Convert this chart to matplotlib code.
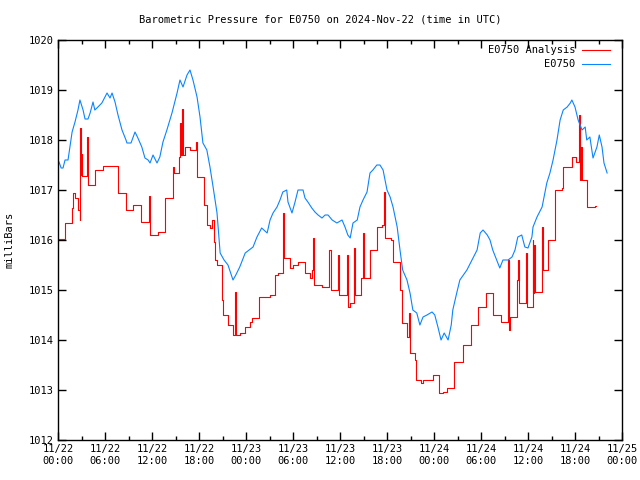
import matplotlib
matplotlib.use("Agg")
import matplotlib.pyplot as plt
import matplotlib.dates as mdates
import pandas as pd

# hours after 2024-11-22 00:00 UTC
station_hours = [0.13, 0.4, 0.64, 0.9, 1.28, 1.8, 2.17, 2.55, 2.8, 3.2, 3.45, 3.83, 4.1, 4.47, 4.7,
                 5.1, 5.6, 6.26, 6.64, 6.9, 7.28, 7.66, 8.17, 8.68, 8.8, 9.32, 9.83, 10.2, 10.7, 11.1,
                 11.5, 11.75, 12.13, 12.64, 13.0, 13.4, 13.9, 14.55, 15.2, 15.57, 15.96, 16.47, 16.85,
                 17.23, 17.75, 18.13, 18.5, 19.0, 19.4, 19.8, 20.3, 20.7, 21.2, 21.7, 22.34, 22.7,
                 23.2, 23.9, 24.9, 25.4, 26.0, 26.7, 27.07, 27.45, 27.96, 28.34, 28.7, 29.2, 29.36,
                 29.87, 30.26, 30.64, 31.28, 31.53, 31.9, 32.4, 32.8, 33.2, 33.7, 34.1, 34.47, 35.0,
                 35.6, 36.26, 36.64, 37.0, 37.3, 37.66, 38.2, 38.55, 38.94, 39.45, 39.83, 40.2, 40.7,
                 41.1, 41.5, 42.0, 42.4, 42.77, 43.3, 43.66, 44.0, 44.55, 44.94, 45.3, 45.8, 46.2,
                 46.6, 47.1, 47.75, 48.1, 48.5, 48.9, 49.3, 49.8, 50.2, 50.4, 50.9, 51.3, 52.2, 52.85,
                 53.5, 53.9, 54.26, 54.8, 55.15, 55.5, 56.0, 56.4, 56.8, 57.45, 57.96, 58.34, 58.7,
                 59.2, 59.6, 60.0, 60.5, 60.64, 61.15, 61.8, 62.4, 62.8, 63.2, 63.7, 64.1, 64.5, 65.0,
                 65.4, 65.6, 66.0, 66.4, 66.9, 67.3, 67.5, 67.9, 68.3, 68.8, 69.1, 69.45, 69.7, 70.1]
station_mb = [1017.56, 1017.44, 1017.44, 1017.6, 1017.6, 1018.16, 1018.36, 1018.6, 1018.8, 1018.6,
              1018.42, 1018.42, 1018.54, 1018.76, 1018.6, 1018.66, 1018.74, 1018.94, 1018.84, 1018.94,
              1018.76, 1018.5, 1018.2, 1018.0, 1017.94, 1017.94, 1018.16, 1018.04, 1017.86, 1017.64,
              1017.6, 1017.54, 1017.7, 1017.54, 1017.66, 1017.96, 1018.2, 1018.54, 1018.94, 1019.2,
              1019.06, 1019.3, 1019.4, 1019.2, 1018.86, 1018.46, 1017.94, 1017.8, 1017.46, 1017.06,
              1016.54, 1015.74, 1015.6, 1015.5, 1015.2, 1015.3, 1015.46, 1015.74, 1015.86, 1016.06,
              1016.24, 1016.14, 1016.4, 1016.54, 1016.66, 1016.8, 1016.96, 1017.0, 1016.76, 1016.54,
              1016.76, 1017.0, 1017.0, 1016.84, 1016.76, 1016.64, 1016.56, 1016.5, 1016.44, 1016.5,
              1016.5, 1016.4, 1016.34, 1016.4, 1016.26, 1016.1, 1016.04, 1016.34, 1016.4, 1016.66,
              1016.8, 1016.96, 1017.34, 1017.4, 1017.5, 1017.5, 1017.4, 1017.0, 1016.86, 1016.66,
              1016.26, 1015.8, 1015.4, 1015.2, 1014.94, 1014.6, 1014.54, 1014.3, 1014.46, 1014.5,
              1014.56, 1014.5, 1014.26, 1014.0, 1014.14, 1014.0, 1014.3, 1014.6, 1014.94, 1015.2,
              1015.4, 1015.6, 1015.8, 1016.14, 1016.2, 1016.1, 1016.0, 1015.8, 1015.6, 1015.44,
              1015.6, 1015.6, 1015.66, 1015.8, 1016.06, 1016.1, 1015.86, 1015.84, 1016.06, 1016.26,
              1016.46, 1016.66, 1017.14, 1017.34, 1017.6, 1018.0, 1018.4, 1018.6, 1018.66, 1018.74,
              1018.8, 1018.66, 1018.4, 1018.2, 1018.26, 1018.0, 1018.06, 1017.64, 1017.86, 1018.1,
              1017.86, 1017.54, 1017.34]

analysis_hours = [0.13, 0.9, 1.8, 1.9, 2.2, 2.6, 2.75, 2.8, 2.9, 3.0, 3.1, 3.7, 3.8, 4.7, 5.8,
                  7.7, 8.7, 9.6, 10.6, 11.6, 11.7, 12.8, 13.65, 14.7, 14.8, 15.45, 15.6, 15.7,
                  15.85, 16.0, 16.2, 16.85, 17.6, 17.75, 18.6, 19.0, 19.4, 19.6, 19.9, 20.05, 20.3,
                  20.95, 21.1, 21.7, 22.3, 22.6, 22.7, 23.2, 23.9, 24.5, 24.8, 25.7, 27.1, 27.7,
                  28.1, 28.7, 28.8, 29.6, 30.0, 30.6, 31.5, 32.2, 32.4, 32.6, 32.7, 33.7, 34.6,
                  34.8, 35.75, 35.85, 36.9, 37.0, 37.3, 37.8, 37.95, 38.7, 38.9, 39.0, 39.85,
                  40.7, 41.3, 41.6, 41.7, 42.5, 42.8, 43.7, 43.9, 44.6, 44.8, 44.95, 45.6, 45.75,
                  46.4, 46.6, 47.9, 48.7, 49.2, 49.7, 50.6, 51.7, 52.7, 53.6, 54.7, 55.5, 56.5,
                  57.45, 57.55, 57.7, 58.6, 58.7, 58.8, 59.7, 59.85, 60.6, 60.7, 60.75, 60.85,
                  61.8, 61.9, 62.5, 63.4, 64.3, 64.5, 65.6, 66.1, 66.5, 66.6, 66.75, 66.85, 67.5,
                  68.6, 68.7]
analysis_mb = [1016.02, 1016.34, 1016.64, 1016.94, 1016.84, 1016.6, 1016.4, 1018.24, 1017.3,
               1017.73, 1017.28, 1018.06, 1017.1, 1017.4, 1017.48, 1016.94, 1016.6, 1016.7,
               1016.36, 1016.88, 1016.1, 1016.16, 1016.84, 1017.46, 1017.34, 1017.66, 1018.34,
               1017.7, 1018.62, 1017.7, 1017.86, 1017.8, 1017.96, 1017.26, 1016.7, 1016.3,
               1016.24, 1016.4, 1015.96, 1015.6, 1015.5, 1014.8, 1014.5, 1014.3, 1014.1, 1014.96,
               1014.1, 1014.14, 1014.26, 1014.36, 1014.44, 1014.86, 1014.9, 1015.3, 1015.34,
               1016.54, 1015.64, 1015.44, 1015.5, 1015.56, 1015.34, 1015.24, 1015.4, 1016.04,
               1015.1, 1015.06, 1015.8, 1015.0, 1015.7, 1014.9, 1015.7, 1014.66, 1014.74,
               1015.84, 1014.9, 1015.24, 1016.14, 1015.24, 1015.8, 1016.26, 1016.3, 1016.96,
               1016.04, 1016.0, 1015.56, 1015.0, 1014.34, 1014.06, 1014.54, 1013.74, 1013.6,
               1013.2, 1013.14, 1013.2, 1013.3, 1012.94, 1012.96, 1013.04, 1013.56, 1013.9,
               1014.3, 1014.66, 1014.94, 1014.5, 1014.36, 1015.6, 1014.2, 1014.46, 1015.2,
               1015.6, 1014.74, 1015.74, 1014.66, 1016.0, 1014.94, 1015.9, 1014.96, 1016.26,
               1015.4, 1016.0, 1017.0, 1017.04, 1017.46, 1017.66, 1017.56, 1018.5, 1017.2,
               1017.86, 1017.2, 1016.66, 1016.68, 1016.68]

start = pd.Timestamp("2024-11-22 00:00")
t_station = start + pd.to_timedelta(station_hours, unit="h")
t_analysis = start + pd.to_timedelta(analysis_hours, unit="h")

plt.rcParams["font.family"] = "DejaVu Sans Mono"
plt.rcParams["font.size"] = 7.5

fig = plt.figure(figsize=(6.4, 4.8), dpi=100)
ax = fig.add_axes([58 / 640, 40 / 480, 564 / 640, 400 / 480])

red = "#ff0000"
blue = "#0a84ff"
ax.plot(t_analysis, analysis_mb, color=red, lw=0.8, drawstyle="steps-post")
ax.plot(t_station, station_mb, color=blue, lw=0.8)

ax.set_xlim(start, start + pd.Timedelta(hours=72))
ax.set_ylim(1012, 1020)
ax.set_yticks(range(1012, 1021))
ax.xaxis.set_major_locator(mdates.HourLocator(byhour=[0, 6, 12, 18]))
ax.xaxis.set_minor_locator(mdates.HourLocator(byhour=[3, 9, 15, 21]))
ax.xaxis.set_major_formatter(mdates.DateFormatter("%m/%d\n%H:%M"))
ax.tick_params(which="both", direction="in", top=True, right=True, width=1, color="black")
ax.tick_params(which="major", length=6, pad=3)
ax.tick_params(which="minor", length=3)
for s in ax.spines.values():
    s.set_linewidth(1)

ax.set_ylabel("milliBars", labelpad=10)
fig.text(0.5, 1 - 19 / 480, "Barometric Pressure for E0750 on 2024-Nov-22 (time in UTC)",
         ha="center", va="center")

# legend, right-aligned text like gnuplot
tf = ax.transAxes
ax.text(0.917, 0.975, "E0750 Analysis", transform=tf, ha="right", va="center")
ax.plot([0.929, 0.979], [0.975, 0.975], color=red, lw=0.8, transform=tf)
ax.text(0.917, 0.94, "E0750", transform=tf, ha="right", va="center")
ax.plot([0.929, 0.979], [0.94, 0.94], color=blue, lw=0.8, transform=tf)

fig.savefig("out.png", dpi=100)
